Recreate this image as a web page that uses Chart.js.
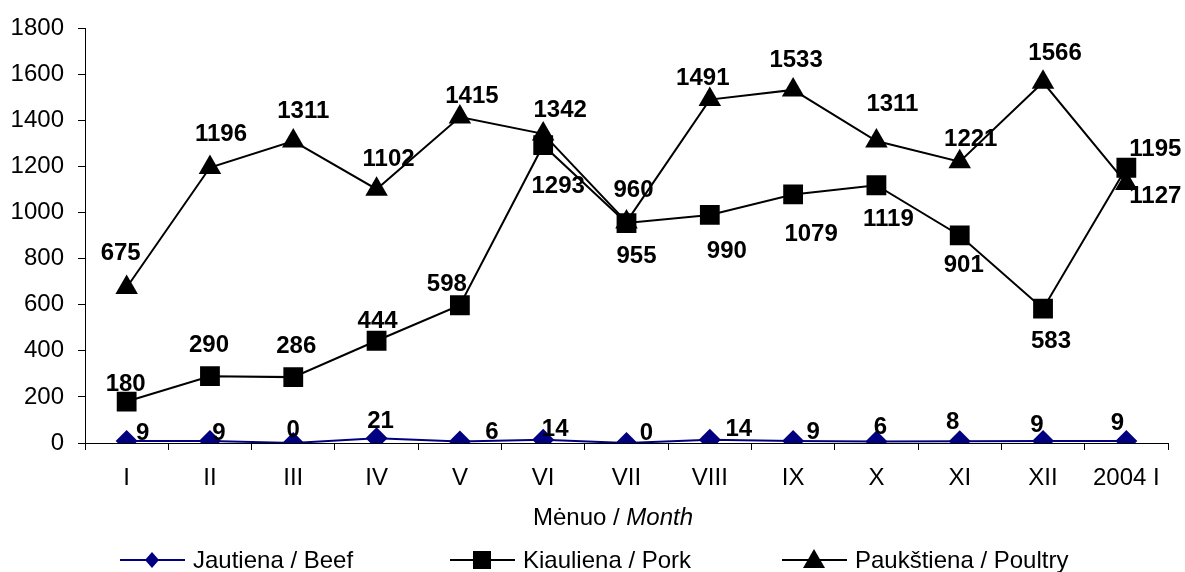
<!DOCTYPE html>
<html>
<head>
<meta charset="utf-8">
<script src="https://cdn.jsdelivr.net/npm/chart.js@4/dist/chart.umd.min.js"></script>
<style>
html,body{margin:0;padding:0;background:#fff;}
canvas{display:block;}
</style>
</head>
<body>
<canvas id="c" width="1185" height="572"></canvas>
<script>
const categories = ['I','II','III','IV','V','VI','VII','VIII','IX','X','XI','XII','2004 I'];
const beef    = [9, 9, 0, 21, 6, 14, 0, 14, 9, 6, 8, 9, 9];
const pork    = [180, 290, 286, 444, 598, 1293, 955, 990, 1079, 1119, 901, 583, 1195];
const poultry = [675, 1196, 1311, 1102, 1415, 1342, 960, 1491, 1533, 1311, 1221, 1566, 1127];
const yTicks  = [0, 200, 400, 600, 800, 1000, 1200, 1400, 1600, 1800];
const seriesNames = ['Jautiena / Beef', 'Kiauliena / Pork', 'Paukštiena / Poultry'];
const axisTitleNormal = 'Mėnuo / ';
const axisTitleItalic = 'Month';

// label offsets (style) relative to each point, in pixels
const labelOffsets = [
  [[16,-9],[9,-9],[0,-14],[4,-18],[32,-10],[12,-11],[20,-11],[29,-11],[20,-10],[4,-15],[-7,-20],[-6,-17],[-9,-19]],
  [[-1,-18],[-1,-32],[3,-32],[1,-20],[-13,-22],[15,40],[10,32],[17,35],[18,39],[12,33],[4,29],[8,32],[29,-19]],
  [[-6,-35],[11,-34],[10,-31],[12,-31],[12,-22],[17,-25],[7,-33],[-7,-22],[3,-31],[16,-38],[11,-23],[12,-30],[29,12]]
];

const FONT = "'Liberation Sans', Arial, sans-serif";

const labelPlugin = {
  id: 'pointLabels',
  afterDatasetsDraw(chart) {
    const ctx = chart.ctx;
    ctx.save();
    ctx.font = 'bold 24px ' + FONT;
    ctx.fillStyle = '#000';
    ctx.textAlign = 'center';
    ctx.textBaseline = 'middle';
    chart.data.datasets.forEach((ds, di) => {
      const meta = chart.getDatasetMeta(di);
      meta.data.forEach((el, i) => {
        const off = labelOffsets[di][i];
        ctx.fillText(String(ds.data[i]), el.x + off[0], el.y + off[1] + 1);
      });
    });
    ctx.restore();
  }
};

const extrasPlugin = {
  id: 'extras',
  afterDraw(chart) {
    const ctx = chart.ctx;
    ctx.save();
    ctx.fillStyle = '#000';
    ctx.textBaseline = 'middle';
    ctx.font = '24px ' + FONT;
    const w1 = ctx.measureText(axisTitleNormal).width;
    ctx.font = 'italic 24px ' + FONT;
    const w2 = ctx.measureText(axisTitleItalic).width;
    let x = 613 - (w1 + w2) / 2;
    ctx.font = '24px ' + FONT;
    ctx.textAlign = 'left';
    ctx.fillText(axisTitleNormal, x, 518);
    ctx.font = 'italic 24px ' + FONT;
    ctx.fillText(axisTitleItalic, x + w1, 518);

    const items = [
      {x: 120, color: '#000080', shape: 'diamond'},
      {x: 450, color: '#000', shape: 'square'},
      {x: 782, color: '#000', shape: 'triangle'}
    ];
    const ly = 560;
    items.forEach((it, k) => {
      ctx.strokeStyle = it.color;
      ctx.fillStyle = it.color;
      ctx.lineWidth = 2;
      ctx.beginPath();
      ctx.moveTo(it.x, ly);
      ctx.lineTo(it.x + 65, ly);
      ctx.stroke();
      const cx = it.x + 32;
      ctx.beginPath();
      if (it.shape === 'diamond') {
        ctx.moveTo(cx, ly - 8); ctx.lineTo(cx + 7, ly); ctx.lineTo(cx, ly + 8); ctx.lineTo(cx - 7, ly); ctx.closePath();
      } else if (it.shape === 'square') {
        ctx.rect(cx - 9, ly - 9, 18, 18);
      } else {
        ctx.moveTo(cx, ly - 11); ctx.lineTo(cx + 11, ly + 8); ctx.lineTo(cx - 11, ly + 8); ctx.closePath();
      }
      ctx.fill();
      ctx.fillStyle = '#000';
      ctx.font = '24px ' + FONT;
      ctx.textAlign = 'left';
      ctx.fillText(seriesNames[k], it.x + 73, ly + 1);
    });
    ctx.restore();
  }
};

new Chart(document.getElementById('c'), {
  type: 'line',
  data: {
    labels: categories,
    datasets: [
      {label: seriesNames[0], data: beef, borderColor: '#000080', backgroundColor: '#000080',
       borderWidth: 2, pointStyle: 'rectRot', pointRadius: 11, pointBorderWidth: 0, tension: 0},
      {label: seriesNames[1], data: pork, borderColor: '#000', backgroundColor: '#000',
       borderWidth: 2, pointStyle: 'rect', pointRadius: 14, pointBorderWidth: 0, tension: 0},
      {label: seriesNames[2], data: poultry, borderColor: '#000', backgroundColor: '#000',
       borderWidth: 2, pointStyle: 'triangle', pointRadius: 13, pointBorderWidth: 0, tension: 0}
    ]
  },
  options: {
    responsive: false,
    animation: false,
    events: [],
    layout: {padding: {top: 27, right: 17, left: 0, bottom: 0}},
    plugins: {legend: {display: false}, tooltip: {enabled: false}, title: {display: false}},
    scales: {
      x: {
        offset: true,
        grid: {offset: true, drawOnChartArea: false, drawTicks: true, tickLength: 7, color: '#000', lineWidth: 1},
        border: {display: true, color: '#000', width: 1},
        ticks: {color: '#000', font: {family: FONT, size: 24}, padding: 14, maxRotation: 0, autoSkip: false},
        afterFit(s) { s.height = 129; }
      },
      y: {
        min: 0, max: 1800,
        afterBuildTicks(s) { s.ticks = yTicks.map(v => ({value: v})); },
        grid: {drawOnChartArea: false, drawTicks: true, tickLength: 7, color: '#000', lineWidth: 1},
        border: {display: true, color: '#000', width: 1},
        ticks: {color: '#000', font: {family: FONT, size: 24}, padding: 14, callback: v => String(v)},
        afterFit(s) { s.width = 85; }
      }
    }
  },
  plugins: [labelPlugin, extrasPlugin]
});
</script>
</body>
</html>
